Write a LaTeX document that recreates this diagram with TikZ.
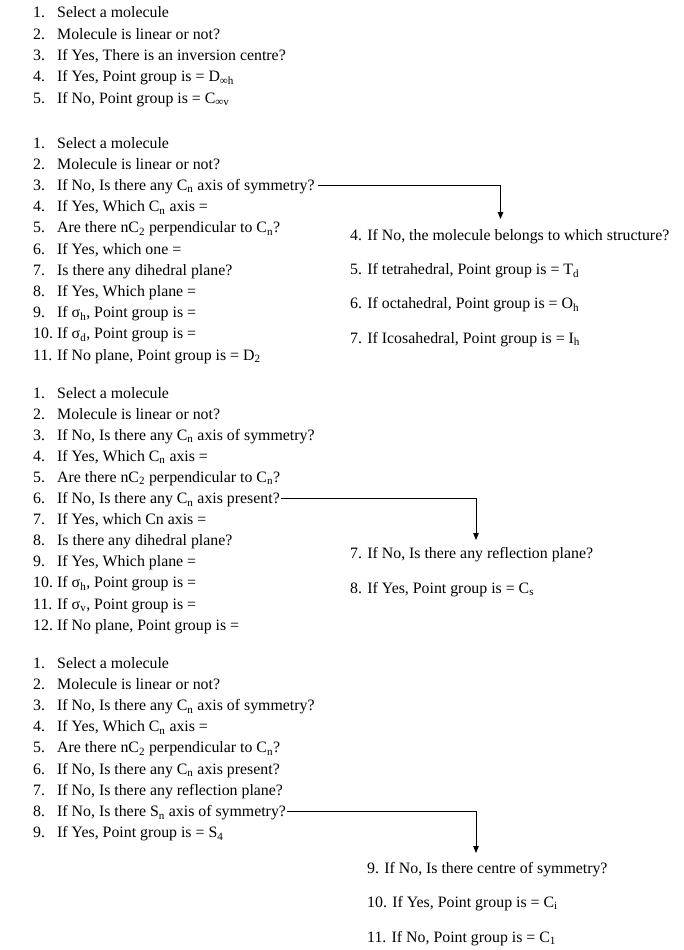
\documentclass[tikz,border=0pt]{standalone}
\usepackage{fontspec}
\setmainfont{Liberation Serif}
\usetikzlibrary{arrows.meta,calc}
\newcommand\sbs[1]{\textsubscript{#1}}
\newcommand\itm[2]{\makebox[24pt][l]{#1}#2}
\tikzset{
  lt/.style={anchor=base west, inner sep=0pt, font=\fontsize{15.85}{18}\selectfont},
  arr/.style={draw, line width=0.8pt, -{Triangle[length=7pt,width=5.5pt]}}
}
\begin{document}
\begin{tikzpicture}[x=1pt,y=-1pt]
\useasboundingbox (0,0) rectangle (684,950);
% Block A
\foreach \t [count=\i] in {
  {\itm{1.}{Select a molecule}},
  {\itm{2.}{Molecule is linear or not?}},
  {\itm{3.}{If Yes, There is an inversion centre?}},
  {\itm{4.}{If Yes, Point group is = D\sbs{∞h}}},
  {\itm{5.}{If No, Point group is = C\sbs{∞v}}}}
  \node[lt] (a\i) at (33,{18+21.3*(\i-1)}) {\t};
% Block B
\foreach \t [count=\i] in {
  {\itm{1.}{Select a molecule}},
  {\itm{2.}{Molecule is linear or not?}},
  {\itm{3.}{If No, Is there any C\sbs{n} axis of symmetry?}},
  {\itm{4.}{If Yes, Which C\sbs{n} axis =}},
  {\itm{5.}{Are there nC\sbs{2} perpendicular to C\sbs{n}?}},
  {\itm{6.}{If Yes, which one =}},
  {\itm{7.}{Is there any dihedral plane?}},
  {\itm{8.}{If Yes, Which plane =}},
  {\itm{9.}{If σ\sbs{h}, Point group is =}},
  {\itm{10.}{If σ\sbs{d}, Point group is =}},
  {\itm{11.}{If No plane, Point group is = D\sbs{2}}}}
  \node[lt] (b\i) at (33,{148+21.2*(\i-1)}) {\t};
\node[lt] (br4) at (350,240.5) {4. If No, the molecule belongs to which structure?};
\node[lt] (br5) at (350,274.7) {5. If tetrahedral, Point group is = T\sbs{d}};
\node[lt] (br6) at (350,308.9) {6. If octahedral, Point group is = O\sbs{h}};
\node[lt] (br7) at (350,343.1) {7. If Icosahedral, Point group is = I\sbs{h}};
\coordinate (bt) at (500.5,219);
\draw[arr] ($(b3.base east)+(3,-5)$) -| (bt);
% Block C
\foreach \t [count=\i] in {
  {\itm{1.}{Select a molecule}},
  {\itm{2.}{Molecule is linear or not?}},
  {\itm{3.}{If No, Is there any C\sbs{n} axis of symmetry?}},
  {\itm{4.}{If Yes, Which C\sbs{n} axis =}},
  {\itm{5.}{Are there nC\sbs{2} perpendicular to C\sbs{n}?}},
  {\itm{6.}{If No, Is there any C\sbs{n} axis present?}},
  {\itm{7.}{If Yes, which Cn axis =}},
  {\itm{8.}{Is there any dihedral plane?}},
  {\itm{9.}{If Yes, Which plane =}},
  {\itm{10.}{If σ\sbs{h}, Point group is =}},
  {\itm{11.}{If σ\sbs{v}, Point group is =}},
  {\itm{12.}{If No plane, Point group is =}}}
  \node[lt] (c\i) at (33,{398+21.1*(\i-1)}) {\t};
\node[lt] (cr7) at (350,558) {7. If No, Is there any reflection plane?};
\node[lt] (cr8) at (350,593) {8. If Yes, Point group is = C\sbs{s}};
\coordinate (ct) at (476,540);
\draw[arr] ($(c6.base east)+(1,-5)$) -| (ct);
% Block D
\foreach \t [count=\i] in {
  {\itm{1.}{Select a molecule}},
  {\itm{2.}{Molecule is linear or not?}},
  {\itm{3.}{If No, Is there any C\sbs{n} axis of symmetry?}},
  {\itm{4.}{If Yes, Which C\sbs{n} axis =}},
  {\itm{5.}{Are there nC\sbs{2} perpendicular to C\sbs{n}?}},
  {\itm{6.}{If No, Is there any C\sbs{n} axis present?}},
  {\itm{7.}{If No, Is there any reflection plane?}},
  {\itm{8.}{If No, Is there S\sbs{n} axis of symmetry?}},
  {\itm{9.}{If Yes, Point group is = S\sbs{4}}}}
  \node[lt] (d\i) at (33,{668+21.2*(\i-1)}) {\t};
\node[lt] (dr9) at (367,873) {9. If No, Is there centre of symmetry?};
\node[lt] (dr10) at (367,907) {10. If Yes, Point group is = C\sbs{i}};
\node[lt] (dr11) at (367,942) {11. If No, Point group is = C\sbs{1}};
\coordinate (dt) at (476,853);
\draw[arr] ($(d8.base east)+(1,-5)$) -| (dt);
\end{tikzpicture}
\end{document}
